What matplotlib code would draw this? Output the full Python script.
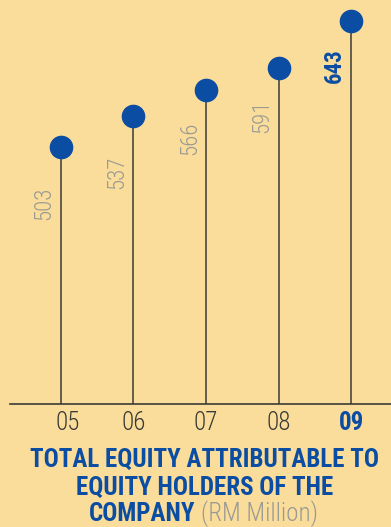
import matplotlib.pyplot as plt
from matplotlib import font_manager as fm

years = ["05", "06", "07", "08", "09"]
equity = [503, 537, 566, 591, 643]

BG = "#FADD9A"
BLUE = "#0B4DA2"
GREY = "#9A9A94"
DARK = "#3A3A36"

# condensed face if one is installed
FAM = "DejaVu Sans"
names = {f.name for f in fm.fontManager.ttflist}
for cand in ["Liberation Sans Narrow", "DejaVu Sans Condensed", "Roboto Condensed"]:
    if cand in names:
        FAM = cand
        break
STRETCH = "condensed"

W, H = 391, 527
fig = plt.figure(figsize=(W / 100, H / 100), dpi=100, facecolor=BG)
ax = fig.add_axes([10 / W, (H - 404) / H, 381 / W, 404 / H])
ax.set_facecolor(BG)

x = list(range(len(years)))
ax.vlines(x, 218, equity, color=DARK, lw=1.1, zorder=2)
ax.plot(x, equity, "o", color=BLUE, ms=16, zorder=3)

for i, v in enumerate(equity):
    last = i == len(equity) - 1
    gap = 30 if last else (44 if v < 560 else 35)
    ax.text(i - 0.23, v - gap, str(v), rotation=90, ha="center", va="top",
            fontsize=16.5, family=FAM, stretch=STRETCH,
            color=BLUE if last else GREY,
            fontweight="bold" if last else "light")

ax.set_xlim(-0.70, 4.55)
ax.set_ylim(218, 666)
ax.set_xticks([])
ax.set_yticks([])
for s in ["top", "left", "right"]:
    ax.spines[s].set_visible(False)
ax.spines["bottom"].set_color(DARK)
ax.spines["bottom"].set_linewidth(1.2)

# year labels under the baseline
for i, y in enumerate(years):
    last = i == len(years) - 1
    ax.annotate(y, xy=(i, 218), xytext=(5 if i == 0 else 0, -5),
                textcoords="offset points", ha="center", va="top",
                fontsize=18, family=FAM, stretch=STRETCH,
                color=BLUE if last else DARK,
                fontweight="bold" if last else "light")

cx = 205 / W
fs = 18
fig.text(cx, 1 - 467 / H, "TOTAL EQUITY ATTRIBUTABLE TO", ha="center",
         va="baseline", fontsize=fs, family=FAM, stretch=STRETCH,
         fontweight="bold", color=BLUE)
fig.text(cx, 1 - 495 / H, "EQUITY HOLDERS OF THE", ha="center",
         va="baseline", fontsize=fs, family=FAM, stretch=STRETCH,
         fontweight="bold", color=BLUE)
fig.text(195 / W, 1 - 521 / H, "COMPANY", ha="right",
         va="baseline", fontsize=fs, family=FAM, stretch=STRETCH,
         fontweight="bold", color=BLUE)
fig.text(201 / W, 1 - 521 / H, "(RM Million)", ha="left",
         va="baseline", fontsize=fs, family=FAM, stretch=STRETCH,
         fontweight="light", color=GREY)

fig.savefig("out.png", dpi=100, facecolor=BG)
